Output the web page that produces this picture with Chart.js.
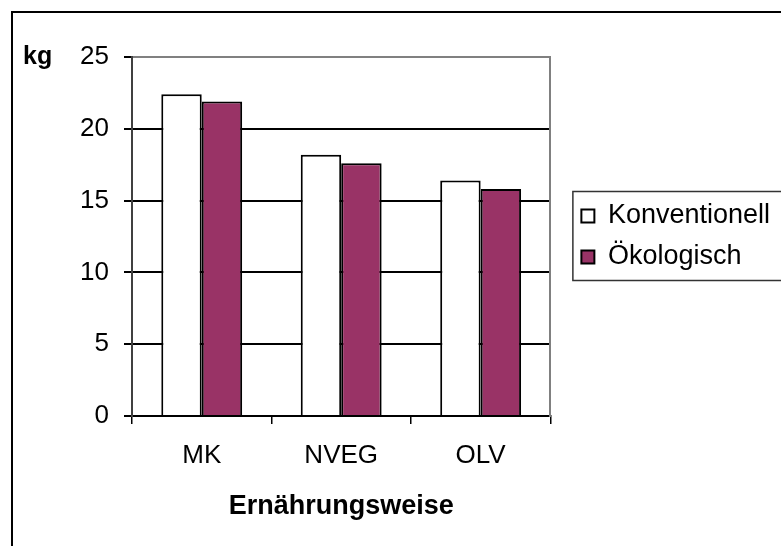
<!DOCTYPE html>
<html>
<head>
<meta charset="utf-8">
<script src="https://cdn.jsdelivr.net/npm/chart.js@4/dist/chart.umd.min.js"></script>
<style>
  body { margin: 0; background: #fff; }
  canvas { display: block; }
</style>
</head>
<body>
<canvas id="chart" width="781" height="546"></canvas>
<script>
// Daten
const kategorien = ['MK', 'NVEG', 'OLV'];
const konventionell = [22.4, 18.2, 16.4];
const oekologisch = [21.9, 17.6, 15.8];
const serienNamen = ['Konventionell', 'Ökologisch'];
const einheit = 'kg';
const achsenTitel = 'Ernährungsweise';

const schrift = '"Liberation Sans", Arial, sans-serif';
Chart.defaults.font.family = schrift;
Chart.defaults.color = '#000';

// Rahmen, Legendenkasten und "kg"
const rahmen = {
  id: 'rahmen',
  beforeDraw(chart) {
    const c = chart.ctx;
    c.save();
    c.fillStyle = '#fff';
    c.fillRect(0, 0, chart.width, chart.height);
    c.restore();
  },
  afterDraw(chart) {
    const c = chart.ctx;
    c.save();
    c.strokeStyle = '#000';
    c.lineWidth = 2;
    c.strokeRect(12, 12, 900, 700);

    const boxes = chart.legend.legendHitBoxes;
    if (boxes && boxes.length) {
      const top = boxes[0].top - 11;
      const bottom = boxes[boxes.length - 1].top + boxes[boxes.length - 1].height + 10;
      c.strokeStyle = '#333';
      c.lineWidth = 1.5;
      c.strokeRect(chart.legend.left + 5.5, top, 400, bottom - top);
    }

    c.fillStyle = '#000';
    c.font = 'bold 25px ' + schrift;
    c.textBaseline = 'alphabetic';
    c.fillText(einheit, 23, 64);
    c.restore();
  }
};

const ctx = document.getElementById('chart').getContext('2d');

new Chart(ctx, {
  type: 'bar',
  data: {
    labels: kategorien,
    datasets: [{
      label: serienNamen[0],
      data: konventionell,
      backgroundColor: '#ffffff',
      borderColor: '#000',
      borderWidth: 2
    }, {
      label: serienNamen[1],
      data: oekologisch,
      backgroundColor: '#993366',
      borderColor: '#000',
      borderWidth: 2
    }]
  },
  options: {
    responsive: false,
    animation: false,
    categoryPercentage: 0.58,
    barPercentage: 1.0,
    layout: { padding: { top: 57, left: 0, right: 1, bottom: 0 } },
    plugins: {
      tooltip: { enabled: false },
      legend: {
        position: 'right',
        fullSize: false,
        maxWidth: 300,
        labels: {
          boxWidth: 13,
          boxHeight: 13,
          padding: 14,
          color: '#000',
          font: { size: 27 }
        }
      }
    },
    scales: {
      x: {
        afterFit(s) { s.height = 130; },
        grid: {
          drawOnChartArea: false,
          color: '#000',
          lineWidth: 1.5,
          tickLength: 8
        },
        border: { color: '#000', width: 2 },
        ticks: { font: { size: 26 }, color: '#000', padding: 16, maxRotation: 0 },
        title: {
          display: true,
          text: achsenTitel,
          color: '#000',
          font: { size: 27, weight: 'bold' },
          padding: { top: 0, bottom: 23 }
        }
      },
      y: {
        min: 0,
        max: 25,
        afterFit(s) { s.width = 132; },
        grid: {
          color: c => c.tick && c.tick.value === 25 ? '#808080' : '#000',
          tickColor: '#000',
          lineWidth: 2,
          tickLength: 8
        },
        border: { color: '#404040', width: 2 },
        ticks: { stepSize: 5, font: { size: 26 }, color: '#000', padding: 15 }
      },
      y2: {
        position: 'right',
        afterFit(s) { s.width = 17; },
        grid: { drawOnChartArea: false, drawTicks: false, color: 'rgba(0,0,0,0)' },
        border: { display: true, color: '#808080', width: 2 },
        ticks: { display: false }
      }
    }
  },
  plugins: [rahmen]
});
</script>
</body>
</html>
